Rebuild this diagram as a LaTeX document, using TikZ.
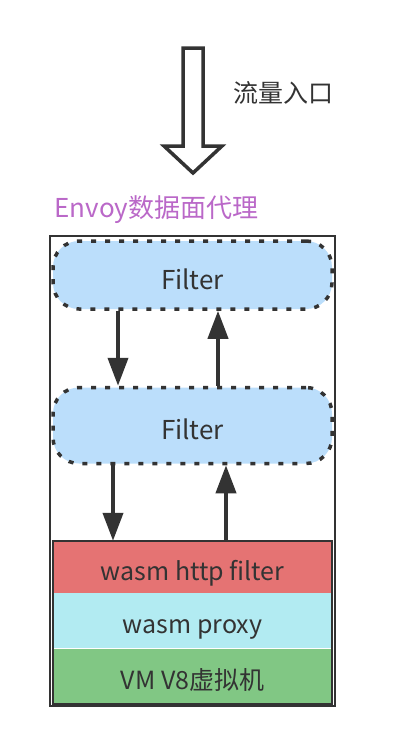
\documentclass[tikz,border=0pt]{standalone}
\usepackage{fontspec}
\setmainfont{Noto Sans CJK SC}
\usepackage{xcolor}
\usepackage{tikz}
\usetikzlibrary{arrows.meta,positioning,shapes}

\definecolor{dark}{HTML}{333333}
\definecolor{filterblue}{HTML}{BBDEFB}
\definecolor{httpred}{HTML}{E57373}
\definecolor{proxycyan}{HTML}{B2EBF2}
\definecolor{vmgreen}{HTML}{81C784}
\definecolor{envoypurple}{HTML}{BA68C8}

\tikzset{
	filterbox/.style={draw=dark,fill=filterblue,line width=3.5pt,dash pattern=on 5pt off 9pt,
		rounded corners=26pt,minimum width=279pt,text=dark,text height=28pt,text depth=0pt,
		font=\fontsize{26}{28}\selectfont},
	layerbox/.style={fill=#1,minimum width=279pt,inner sep=0pt,text=dark,text height=26pt,text depth=0pt,
		font=\fontsize{25}{27}\selectfont},
	flow/.style={-{Triangle[length=28pt,width=20pt]},line width=4pt,dark}
}

\begin{document}
\begin{tikzpicture}[x=1pt,y=-1pt]
		\useasboundingbox (0,0) rectangle (410,756);
		% traffic entry
		\draw[line width=3.5pt,dark,line join=miter,fill=white] (183,48) -- (203,48) -- (203,146) -- (222,146) -- (193,173) -- (164,146) -- (183,146) -- cycle;
		\node[anchor=west,text=dark,font=\fontsize{25}{27}\selectfont] (entry) at (230,93) {流量入口};
		\node[anchor=west,text=envoypurple,font=\fontsize{26}{28}\selectfont] (title) at (51,210) {Envoy数据面代理};
		% envoy box
		\draw[line width=1.5pt,dark] (50,236) rectangle (335,706);
		\node[filterbox,minimum height=68pt] (f1) at (192.5,275) {Filter};
		\node[filterbox,minimum height=76pt] (f2) at (192.5,425.5) {Filter};
		% wasm layers
		\node[layerbox=httpred,minimum height=52pt] (http) at (192.5,567) {wasm http filter};
		\node[layerbox=proxycyan,minimum height=55pt,below=0pt of http] (proxy) {wasm proxy};
		\node[layerbox=vmgreen,minimum height=55pt,below=0pt of proxy] (vm) {VM V8虚拟机};
		\draw[line width=1.5pt,dark] (http.north west) rectangle (vm.south east);
		% flows
		\draw[flow] ([xshift=-74.5pt]f1.south) -- ([xshift=-74.5pt]f2.north);
		\draw[flow] ([xshift=25.5pt]f2.north) -- ([xshift=25.5pt]f1.south);
		\draw[flow] ([xshift=-79.5pt]f2.south) -- ([xshift=-79.5pt]http.north);
		\draw[flow] ([xshift=33.5pt]http.north) -- ([xshift=33.5pt]f2.south);
	\end{tikzpicture}
\end{document}
